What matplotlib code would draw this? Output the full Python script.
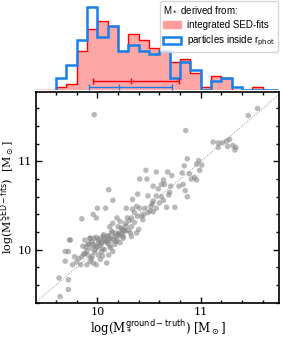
import numpy as np
import matplotlib
matplotlib.use('Agg')
import matplotlib.pyplot as plt
from matplotlib.patches import Patch
from matplotlib.ticker import MultipleLocator

plt.rcParams['mathtext.fontset'] = 'dejavusans'

# histogram of M* (counts per 0.1 dex bin)
red_edges = np.round(np.arange(9.4, 11.71, 0.1), 2)
red_counts = [0, 0, 1, 2, 14, 22, 25, 23, 14, 20, 18, 15, 14, 10, 11, 6, 1, 5, 4, 0, 0, 1, 0]
blue_edges = np.round(np.arange(9.6, 11.81, 0.1), 2)
blue_counts = [4, 9, 18, 30, 19, 23, 14, 16, 14, 13, 14, 4, 10, 7, 0, 3, 4, 1, 0, 0, 0, 0]

# percentile ranges (low, median, high)
red_range = [9.955, 10.326, 10.79]
blue_range = [9.92, 10.213, 10.72]

# scatter: ground truth vs SED-fit masses
m_true = [9.97, 11.55, 11.46, 10.855,
          11.12, 11.17, 11.21, 11.25, 11.28, 11.31, 11.26, 11.17, 11.34, 11.33,
          10.98, 10.96, 11.01, 10.87, 10.99, 10.84, 10.82, 10.89, 10.94, 10.91, 10.96,
          10.47, 10.57, 10.68, 10.72, 10.64, 10.48, 10.41, 10.62, 10.54, 10.59, 10.65,
          10.71, 10.70, 10.79, 10.85, 10.87, 10.83,
          10.11, 10.39, 10.34, 10.49, 10.57, 10.62, 10.64, 10.54, 10.53, 10.52, 10.57,
          10.15, 10.00, 10.08, 9.96, 9.99, 9.85, 10.28, 10.34, 10.38, 10.41, 10.46,
          10.36, 10.33, 10.39, 10.19, 10.22, 10.20, 10.15, 10.12, 10.27, 10.29, 10.40,
          10.24, 10.18, 10.25, 10.32, 10.11, 10.06, 10.03, 9.97, 9.93, 9.73, 10.75,
          10.67, 10.49, 10.54, 10.45, 10.33,
          9.74, 9.69, 9.72, 9.69, 9.76, 9.84, 9.63, 9.72, 9.64, 9.72,
          9.78, 9.85, 9.88, 9.91, 9.95, 10.01, 10.04, 9.98, 9.86, 9.91, 9.96, 10.01,
          10.04, 10.09, 10.12, 10.17, 10.22, 10.27, 9.88, 9.93, 9.99, 10.06, 10.14,
          10.07, 10.12, 10.17, 10.22, 10.15, 10.11, 10.03, 9.93, 9.96, 9.90, 9.99,
          10.09, 10.19, 10.25, 10.33, 10.38,
          9.87, 9.90, 9.94, 9.97, 10.00, 10.02, 10.05, 10.08, 10.10, 10.13, 10.16,
          10.18, 10.21, 10.24, 10.26, 9.89, 9.92, 9.95, 9.98, 10.01, 10.04, 10.07,
          10.10, 10.14, 10.20, 10.23, 10.28, 10.31, 10.36, 10.43, 9.82, 9.80, 9.94,
          10.05, 10.13, 10.30, 10.44, 10.51, 10.60, 10.69]
m_sed = [11.53, 11.60, 11.52, 11.35,
         11.22, 11.21, 11.21, 11.23, 11.25, 11.18, 11.17, 11.16, 11.16, 11.13,
         11.01, 10.97, 10.96, 11.03, 10.90, 10.95, 10.87, 10.86, 10.82, 10.80, 10.79,
         10.90, 10.88, 10.88, 10.84, 10.79, 10.80, 10.80, 10.74, 10.72, 10.69, 10.74,
         10.72, 10.65, 10.72, 10.67, 10.60, 10.74,
         10.68, 10.63, 10.57, 10.61, 10.61, 10.60, 10.56, 10.55, 10.52, 10.49, 10.47,
         10.56, 10.47, 10.47, 10.40, 10.36, 10.35, 10.47, 10.46, 10.49, 10.47, 10.47,
         10.42, 10.36, 10.38, 10.36, 10.32, 10.26, 10.30, 10.26, 10.30, 10.36, 10.23,
         10.23, 10.19, 10.15, 10.19, 10.15, 10.15, 10.13, 10.13, 10.13, 10.11, 10.48,
         10.48, 10.42, 10.43, 10.40, 10.26,
         10.11, 9.98, 9.98, 9.87, 9.83, 9.83, 9.68, 9.66, 9.47, 9.55,
         9.92, 9.92, 9.96, 9.94, 9.92, 9.94, 9.98, 10.00, 10.04, 10.06, 10.06, 10.08,
         10.07, 10.09, 10.13, 10.15, 10.19, 10.21, 10.11, 10.13, 10.14, 10.17, 10.21,
         10.00, 10.04, 10.06, 10.08, 9.98, 9.94, 9.89, 9.87, 9.85, 9.83, 9.83,
         9.85, 10.11, 10.13, 10.15, 10.19,
         9.95, 9.99, 10.02, 9.97, 10.03, 10.05, 10.01, 10.10, 10.07, 10.10, 10.12,
         10.09, 10.16, 10.18, 10.22, 10.03, 10.07, 10.09, 10.04, 10.11, 10.09, 10.12,
         10.16, 10.19, 10.17, 10.25, 10.27, 10.33, 10.31, 10.38, 9.90, 9.86, 9.90,
         9.93, 10.02, 10.22, 10.34, 10.44, 10.53, 10.62]

fig = plt.figure(figsize=(2.84, 3.37), dpi=100)
ax = fig.add_axes([0.1268, 0.1018, 0.8567, 0.6261])
axh = fig.add_axes([0.1268, 0.7344, 0.8567, 0.2656], sharex=ax)

# main scatter panel
ax.plot([9.0, 12.0], [9.0, 12.0], ls=':', color='gray', lw=0.6, zorder=1)
ax.scatter(m_true, m_sed, s=16, color='gray', alpha=0.55, edgecolors='none', zorder=2)
ax.set_xlim(9.407, 11.76)
ax.set_ylim(9.40, 11.79)
ax.xaxis.set_major_locator(MultipleLocator(1))
ax.xaxis.set_minor_locator(MultipleLocator(0.2))
ax.yaxis.set_major_locator(MultipleLocator(1))
ax.yaxis.set_minor_locator(MultipleLocator(0.2))
ax.tick_params(which='both', direction='in', top=True, right=True, width=1.0,
               labelsize=8, labelfontfamily='DejaVu Serif')
ax.tick_params(which='major', length=4.5, pad=3)
ax.tick_params(which='minor', length=2.5)
for sp in ax.spines.values():
    sp.set_linewidth(1.2)
ax.set_xlabel(r'log(M$_*^{\rm ground-truth}$) [M$_\odot$]', fontsize=8.5,
              family='DejaVu Serif', labelpad=0.5)
ax.set_ylabel(r'log(M$_*^{\rm SED-fits}$)  [M$_\odot$]', fontsize=8,
              family='DejaVu Serif', labelpad=1)

# histogram panel
axh.stairs(red_counts, red_edges, fill=True, color='red', alpha=0.35, lw=0)
axh.stairs(red_counts, red_edges, color='red', lw=1.0)
blue = '#1780ea'
axh.stairs(blue_counts, blue_edges, color=blue, lw=1.8)
axh.errorbar([red_range[1]], [3.1], xerr=[[red_range[1] - red_range[0]], [red_range[2] - red_range[1]]],
             fmt='|', color='red', ms=5, mew=1.0, lw=1.0, capsize=2.5, capthick=1.0)
axh.errorbar([blue_range[1]], [0.8], xerr=[[blue_range[1] - blue_range[0]], [blue_range[2] - blue_range[1]]],
             fmt='|', color=blue, ms=5, mew=1.0, lw=1.0, capsize=2.5, capthick=1.0)
axh.set_ylim(0, 32.5)
axh.axis('off')

handles = [Patch(facecolor='#ff9d9d', edgecolor='#ff9d9d'),
           Patch(facecolor='white', edgecolor=blue, lw=1.8)]
leg = axh.legend(handles, ['integrated SED-fits', r'particles inside r$_{\rm phot}$'],
                 title=r'M$_*$ derived from:', loc='upper right', alignment='left',
                 prop={'family': 'Liberation Sans', 'size': 7},
                 title_fontproperties={'family': 'Liberation Sans', 'size': 7},
                 borderaxespad=0.15, handlelength=1.8, handletextpad=0.6,
                 borderpad=0.35, labelspacing=0.45)
leg.get_frame().set_edgecolor('#cccccc')

fig.savefig('out.png', dpi=100)
